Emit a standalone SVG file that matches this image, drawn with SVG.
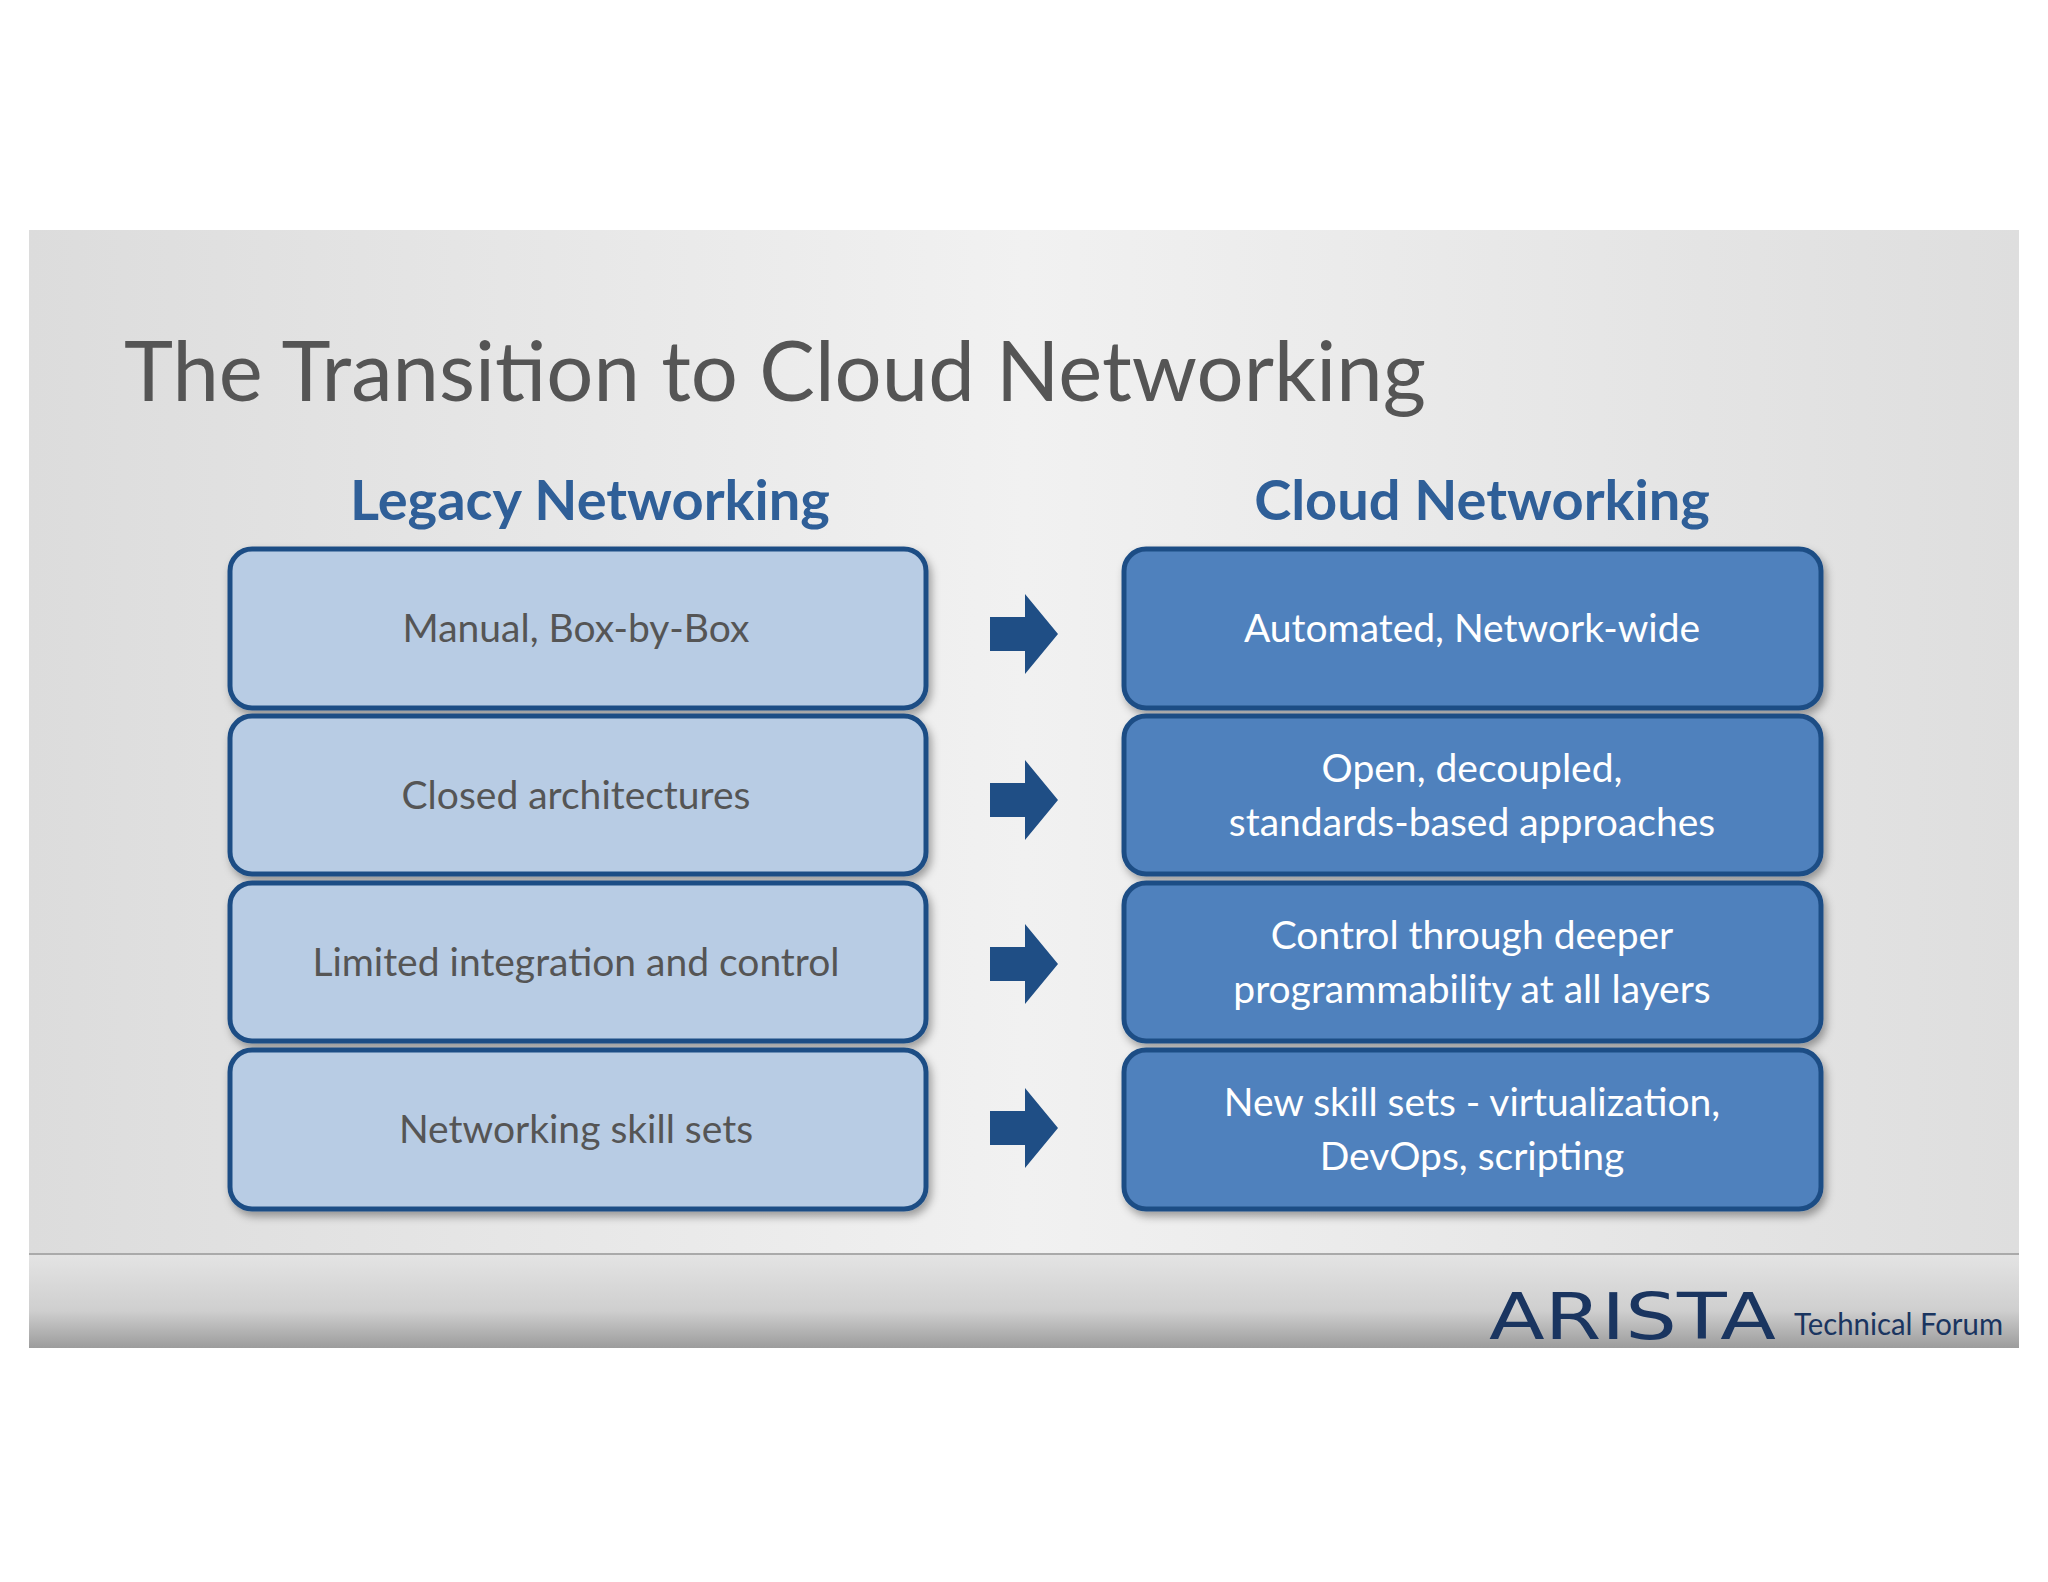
<svg xmlns="http://www.w3.org/2000/svg" width="2048" height="1582" viewBox="0 0 2048 1582">
<defs>
<linearGradient id="bg" x1="0" y1="0" x2="1" y2="0"><stop offset="0" stop-color="#dcdcdc"/><stop offset="0.5" stop-color="#f1f1f1"/><stop offset="1" stop-color="#dedede"/></linearGradient>
<linearGradient id="ft" x1="0" y1="0" x2="0" y2="1"><stop offset="0" stop-color="#e4e4e4"/><stop offset="0.6" stop-color="#cfcfcf"/><stop offset="1" stop-color="#9c9c9c"/></linearGradient>
<filter id="sh" x="-5%" y="-5%" width="112%" height="120%"><feDropShadow dx="3" dy="5" stdDeviation="4" flood-color="#000" flood-opacity="0.35"/></filter>
<path id="arr" d="M-34,-17 H1 V-40 L34,0 L1,40 V17 H-34 Z"/>
</defs>
<style>
.lb{fill:#b8cce4;stroke:#1f4e85;stroke-width:5;filter:url(#sh)}
.rb{fill:#4f81bd;stroke:#1f4e85;stroke-width:5;filter:url(#sh)}
.lt{font-family:"Lato","Open Sans",sans-serif;font-size:39px;fill:#555;text-anchor:middle}
.rt{font-family:"Lato","Open Sans",sans-serif;font-size:39px;fill:#fff;text-anchor:middle}
.hd{font-family:"Lato","Open Sans",sans-serif;font-weight:bold;font-size:56px;fill:#2f5f98;text-anchor:middle}
.ar{fill:#1f4e85}
</style>
<rect width="2048" height="1582" fill="#fff"/>
<rect x="29" y="230" width="1990" height="1024" fill="url(#bg)"/>
<rect x="29" y="1254" width="1990" height="94" fill="url(#ft)"/>
<line x1="29" y1="1254" x2="2019" y2="1254" stroke="#aaa" stroke-width="2"/>
<text x="124" y="401" font-family="Lato, 'Open Sans', sans-serif" font-size="84" fill="#555" textLength="1302" lengthAdjust="spacingAndGlyphs">The Transition to Cloud Networking</text>
<text class="hd" x="590" y="520">Legacy Networking</text>
<text class="hd" x="1482" y="520">Cloud Networking</text>
<g id="l1"><rect class="lb" x="230" y="549" width="696" height="159" rx="22"/><text class="lt" x="576" y="642">Manual, Box-by-Box</text></g>
<g id="l2"><rect class="lb" x="230" y="716" width="696" height="158" rx="22"/><text class="lt" x="576" y="809">Closed architectures</text></g>
<g id="l3"><rect class="lb" x="230" y="883" width="696" height="158" rx="22"/><text class="lt" x="576" y="976">Limited integration and control</text></g>
<g id="l4"><rect class="lb" x="230" y="1050" width="696" height="159" rx="22"/><text class="lt" x="576" y="1143">Networking skill sets</text></g>
<g id="r1"><rect class="rb" x="1124" y="549" width="697" height="159" rx="22"/><text class="rt" x="1472" y="642">Automated, Network-wide</text></g>
<g id="r2"><rect class="rb" x="1124" y="716" width="697" height="158" rx="22"/><text class="rt" x="1472" y="782">Open, decoupled,</text><text class="rt" x="1472" y="836">standards-based approaches</text></g>
<g id="r3"><rect class="rb" x="1124" y="883" width="697" height="158" rx="22"/><text class="rt" x="1472" y="949">Control through deeper</text><text class="rt" x="1472" y="1003">programmability at all layers</text></g>
<g id="r4"><rect class="rb" x="1124" y="1050" width="697" height="159" rx="22"/><text class="rt" x="1472" y="1116">New skill sets - virtualization,</text><text class="rt" x="1472" y="1170">DevOps, scripting</text></g>
<g id="connectors">
<use href="#arr" class="ar" x="1024" y="634"/>
<use href="#arr" class="ar" x="1024" y="800"/>
<use href="#arr" class="ar" x="1024" y="964"/>
<use href="#arr" class="ar" x="1024" y="1128"/>
</g>
<text x="1489" y="1339" font-family="'DejaVu Sans', sans-serif" font-size="64" fill="#1a3560" textLength="287" lengthAdjust="spacingAndGlyphs">ARISTA</text>
<text x="1794" y="1335" font-family="Lato, sans-serif" font-size="30" fill="#1a3560" textLength="209" lengthAdjust="spacingAndGlyphs">Technical Forum</text>
</svg>
